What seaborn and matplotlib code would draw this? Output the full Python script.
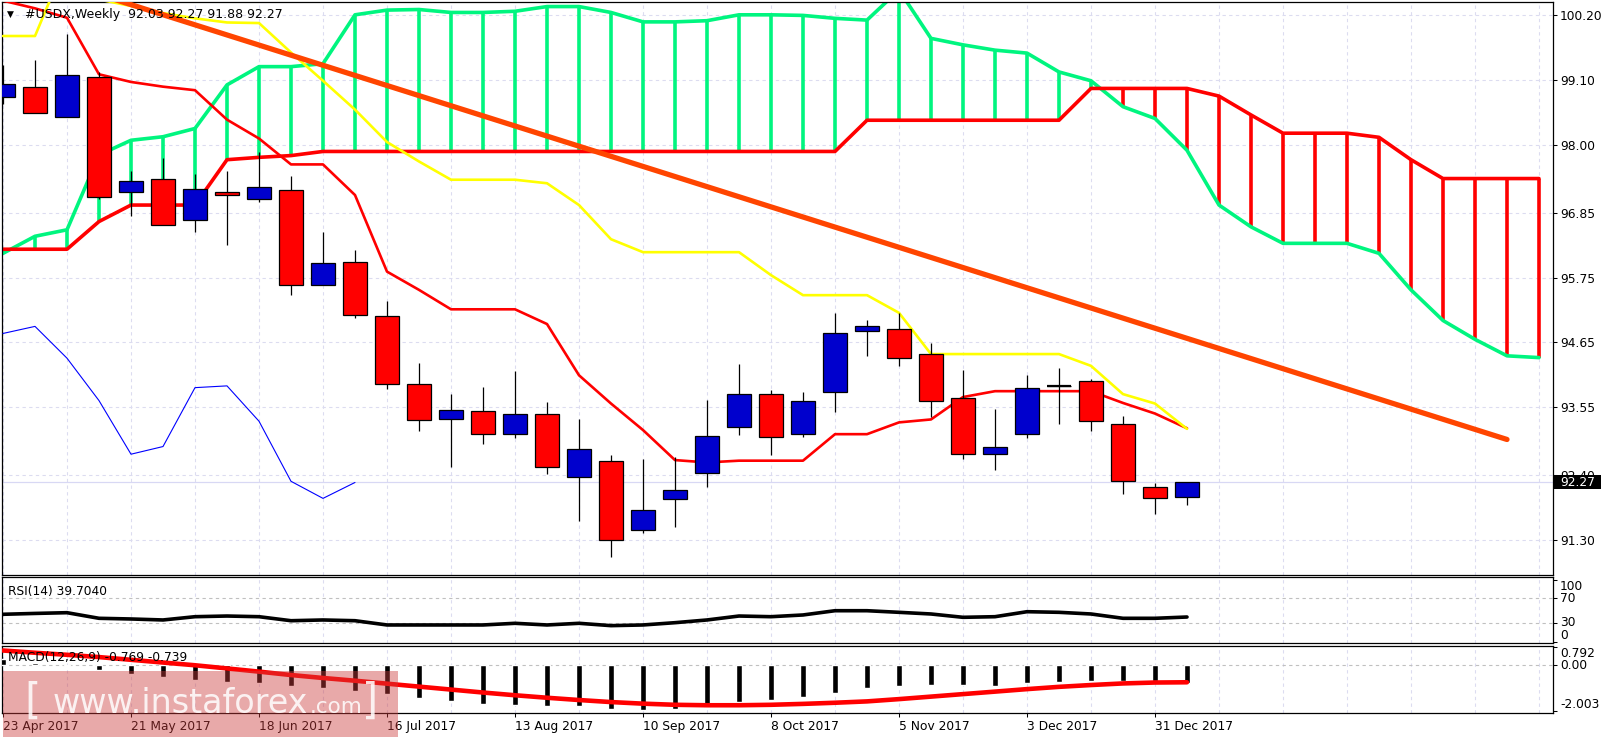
import numpy as np
import matplotlib
matplotlib.use("Agg")
import matplotlib.pyplot as plt
import seaborn as sns
from matplotlib.patches import Rectangle
import matplotlib.transforms as mtransforms

# ---------------- data ----------------
opens = [98.81, 98.98, 98.47, 99.15, 97.20, 97.43, 96.72, 97.21, 97.09, 97.23,
         95.63, 96.02, 95.09, 93.94, 93.34, 93.48, 93.09, 93.44, 92.36, 92.63,
         91.46, 91.99, 92.43, 93.22, 93.77, 93.09, 93.80, 94.84, 94.87, 94.45,
         93.70, 92.76, 93.10, 93.91, 93.99, 93.27, 92.19, 92.03]
highs = [99.35, 99.45, 99.88, 99.24, 97.56, 97.78, 97.51, 97.56, 97.88, 97.47,
         96.52, 96.22, 95.35, 94.30, 93.77, 93.89, 94.16, 93.64, 93.35, 92.74,
         92.67, 92.70, 93.67, 94.28, 93.84, 93.81, 95.15, 95.03, 95.15, 94.64,
         94.18, 93.52, 94.09, 94.22, 94.03, 93.40, 92.26, 92.27]
lows = [98.69, 98.54, 98.47, 97.08, 96.80, 96.64, 96.52, 96.30, 97.04, 95.46,
        95.62, 95.07, 93.85, 93.15, 92.54, 92.93, 93.03, 92.42, 91.62, 91.01,
        91.41, 91.52, 92.20, 93.08, 92.74, 93.05, 93.47, 94.41, 94.25, 93.39,
        92.67, 92.49, 93.03, 93.27, 93.15, 92.08, 91.74, 91.88]
closes = [99.03, 98.55, 99.18, 97.11, 97.38, 96.64, 97.26, 97.15, 97.28, 95.62,
          95.99, 95.11, 93.95, 93.33, 93.50, 93.09, 93.43, 92.53, 92.83, 91.30,
          91.81, 92.15, 93.06, 93.78, 93.05, 93.66, 94.80, 94.92, 94.38, 93.66,
          92.75, 92.88, 93.88, 93.91, 93.31, 92.29, 92.00, 92.27]

tenkan = [100.45, 100.32, 100.16, 99.20, 99.07, 98.99, 98.93, 98.43, 98.11, 97.67,
          97.67, 97.15, 95.85, 95.54, 95.21, 95.21, 95.21, 94.96, 94.09, 93.61,
          93.16, 92.65, 92.61, 92.64, 92.64, 92.64, 93.09, 93.09, 93.29, 93.34,
          93.72, 93.82, 93.82, 93.82, 93.82, 93.62, 93.44, 93.19]
kijun = [99.85, 99.85, 101.15, 100.47, 100.36, 100.24, 100.15, 100.08, 100.07, 99.57,
         99.09, 98.60, 98.05, 97.72, 97.41, 97.41, 97.41, 97.35, 96.98, 96.40,
         96.18, 96.18, 96.18, 96.18, 95.79, 95.45, 95.45, 95.45, 95.15, 94.45,
         94.45, 94.45, 94.45, 94.45, 94.25, 93.77, 93.61, 93.18]
span_a = [96.16, 96.45, 96.56, 97.83, 98.08, 98.14, 98.28, 99.02, 99.33, 99.33,
          99.38, 100.21, 100.29, 100.30, 100.25, 100.25, 100.27, 100.35, 100.35, 100.25,
          100.09, 100.09, 100.11, 100.21, 100.21, 100.20, 100.15, 100.12, 100.63, 99.81,
          99.70, 99.61, 99.56, 99.24, 99.09, 98.65, 98.45, 97.91, 96.98, 96.61,
          96.33, 96.33, 96.33, 96.16, 95.54, 95.02, 94.70, 94.42, 94.39]
span_b = [96.23, 96.23, 96.23, 96.70, 96.98, 96.98, 96.98, 97.75, 97.79, 97.82,
          97.89, 97.89, 97.89, 97.89, 97.89, 97.89, 97.89, 97.89, 97.89, 97.89,
          97.89, 97.89, 97.89, 97.89, 97.89, 97.89, 97.89, 98.42, 98.42, 98.42,
          98.42, 98.42, 98.42, 98.42, 98.96, 98.96, 98.96, 98.96, 98.83, 98.51,
          98.20, 98.20, 98.20, 98.13, 97.75, 97.43, 97.43, 97.43, 97.43]
chikou_shift = 26

trend_idx = [0, 47]
trend_val = [101.07, 93.00]

rsi = [44.1, 45.5, 46.7, 37.6, 36.5, 34.9, 40.2, 41.3, 40.2, 33.7,
       34.9, 33.7, 26.8, 26.8, 26.8, 26.8, 29.5, 26.8, 29.5, 25.7,
       26.8, 30.5, 34.9, 41.3, 40.2, 43.0, 49.9, 49.9, 47.3, 44.6,
       39.2, 40.2, 48.3, 47.3, 44.6, 37.6, 37.6, 39.7]
macd_main = [0.29, 0.12, -0.04, -0.18, -0.36, -0.52, -0.63, -0.71, -0.75, -0.89,
             -0.97, -1.11, -1.27, -1.45, -1.58, -1.68, -1.72, -1.79, -1.79, -1.92,
             -1.98, -1.91, -1.84, -1.62, -1.53, -1.40, -1.19, -0.97, -0.90, -0.85,
             -0.85, -0.90, -0.75, -0.72, -0.67, -0.68, -0.68, -0.769]
macd_signal = [0.66, 0.56, 0.47, 0.37, 0.25, 0.13, 0.01, -0.13, -0.27, -0.42,
               -0.55, -0.67, -0.80, -0.93, -1.06, -1.19, -1.31, -1.42, -1.52, -1.61,
               -1.68, -1.73, -1.75, -1.75, -1.73, -1.69, -1.64, -1.58, -1.48, -1.37,
               -1.26, -1.15, -1.04, -0.94, -0.86, -0.79, -0.75, -0.739]

price_ticks = [100.20, 99.10, 98.00, 96.85, 95.75, 94.65, 93.55, 92.40, 91.30]
rsi_ticks = [100, 70, 30, 0]
rsi_levels = [70, 30]
macd_ticks = [0.792, 0.00, -2.003]
macd_tick_labels = ["0.792", "0.00", "-2.003"]
date_idx = [0, 4, 8, 12, 16, 20, 24, 28, 32, 36]
date_labels = ["23 Apr 2017", "21 May 2017", "18 Jun 2017", "16 Jul 2017",
               "13 Aug 2017", "10 Sep 2017", "8 Oct 2017", "5 Nov 2017",
               "3 Dec 2017", "31 Dec 2017"]
title_text = "#USDX,Weekly  92.03 92.27 91.88 92.27"
rsi_text = "RSI(14) 39.7040"
macd_text = "MACD(12,26,9) -0.769 -0.739"
last_price = 92.27

# ---------------- style ----------------
sns.set_style("white")
plt.rcParams['font.family'] = ['DejaVu Sans']
FS = 8.8

W, H = 1605, 740
fig = plt.figure(figsize=(W / 100, H / 100), dpi=100)
fig.patch.set_facecolor("white")


def px_axes(l, t, r, b):
    return fig.add_axes([l / W, 1 - b / H, (r - l) / W, (b - t) / H])


def fx(x):
    return x / W


def fy(y):
    return 1 - y / H


XMIN, XMAX = (2 - 3) / 32, (1553 - 3) / 32
GRID_C = "#DCDCF0"
GRID_LS = (0, (3, 3))

ax = px_axes(2, 2, 1553, 575)
ax_rsi = px_axes(2, 577.3, 1553, 642.7)
ax_macd = px_axes(2, 645.7, 1553, 712.7)

for a in (ax, ax_rsi, ax_macd):
    a.set_facecolor("white")
    a.set_xlim(XMIN, XMAX)
    for s in a.spines.values():
        s.set_color("black")
        s.set_linewidth(0.9)
        s.set_visible(True)
    a.yaxis.tick_right()
    a.tick_params(axis='y', direction='out', length=3, width=0.75, pad=2,
                  labelsize=FS, colors='black', right=True, left=False)
    for gx in range(0, 50, 2):
        a.axvline(gx, color=GRID_C, lw=0.8, ls=GRID_LS, zorder=0)

# ---------------- main panel ----------------
ax.set_ylim(90.699, 100.4275)
ax.set_yticks(price_ticks)
ax.set_yticklabels([f"{v:.2f}" for v in price_ticks])
ax.tick_params(axis='x', bottom=False, labelbottom=False)
for v in price_ticks:
    ax.axhline(v, color=GRID_C, lw=0.8, ls=GRID_LS, zorder=0)
ax.axhline(last_price, color="#D8D8F4", lw=0.9, zorder=0.5)

idx_cloud = np.arange(len(span_a))
cloud_cols = ["#00F57F" if a_ >= b_ else "#FF0000" for a_, b_ in zip(span_a, span_b)]
ax.vlines(idx_cloud, span_a, span_b, colors=cloud_cols, linewidth=2.6, zorder=1)
sns.lineplot(x=idx_cloud, y=span_a, ax=ax, color="#00F57F", linewidth=2.6, zorder=2)
sns.lineplot(x=idx_cloud, y=span_b, ax=ax, color="#FF0000", linewidth=2.6, zorder=2)

idx = np.arange(len(closes))
sns.lineplot(x=idx, y=tenkan, ax=ax, color="#FF0000", linewidth=1.9, zorder=3)
sns.lineplot(x=idx, y=kijun, ax=ax, color="#FFFF00", linewidth=1.9, zorder=3.2)
chik_y = closes[chikou_shift:]
sns.lineplot(x=np.arange(len(chik_y)), y=chik_y, ax=ax, color="#0000FF",
             linewidth=0.8, zorder=3.3)

# candles
o = np.array(opens); c = np.array(closes)
ax.vlines(idx, lows, highs, colors="black", linewidth=0.9, zorder=5)
body_cols = ["#0000CD" if cc > oo else "#FF0000" for oo, cc in zip(o, c)]
ax.bar(idx, np.abs(c - o), bottom=np.minimum(o, c), width=0.75, color=body_cols,
       edgecolor="black", linewidth=0.9, zorder=6)
for i in idx:
    if abs(c[i] - o[i]) < 1e-9:
        ax.hlines(c[i], i - 0.375, i + 0.375, colors="black", linewidth=1.6, zorder=7)

# trend line
sns.lineplot(x=trend_idx, y=trend_val, ax=ax, color="#FF4500", linewidth=3.8, zorder=8)
ax.set_xlim(XMIN, XMAX)
ax.set_xlabel(""); ax.set_ylabel("")

# last price box
blend = mtransforms.blended_transform_factory(fig.transFigure, ax.transData)
hh = 14 / 58.9
rect = Rectangle((1554 / W, last_price - hh / 2), 47 / W, hh, transform=blend,
                 facecolor="black", edgecolor="none", zorder=20)
rect.set_clip_on(False)
ax.add_patch(rect)
ax.text(1560 / W, last_price, f"{last_price:.2f}", transform=blend, color="white",
        fontsize=FS, va="center", ha="left", zorder=21, clip_on=False)

fig.text(fx(7), fy(14.5), "\u25BC", fontsize=6.5, va="center", ha="left", color="black")
fig.text(fx(25), fy(14.5), title_text, fontsize=9, va="center", ha="left", color="black")

# ---------------- RSI ----------------
ax_rsi.set_ylim(-1.94, 104.05)
ax_rsi.set_yticks(rsi_ticks)
ax_rsi.set_yticklabels([str(v) for v in rsi_ticks])
for lbl, v in zip(ax_rsi.get_yticklabels(), rsi_ticks):
    if v == 100:
        lbl.set_va("top")
    elif v == 0:
        lbl.set_va("bottom")
    else:
        lbl.set_va("center")
ax_rsi.tick_params(axis='x', bottom=False, labelbottom=False)
for lv in rsi_levels:
    ax_rsi.axhline(lv, color="#C0C0C0", lw=0.8, ls=GRID_LS, zorder=0.5)
sns.lineplot(x=idx, y=rsi, ax=ax_rsi, color="black", linewidth=2.6, zorder=3)
ax_rsi.set_xlim(XMIN, XMAX)
ax_rsi.set_xlabel(""); ax_rsi.set_ylabel("")
fig.text(fx(8), fy(591), rsi_text, fontsize=FS, va="center", ha="left", color="black")

# ---------------- MACD ----------------
ax_macd.set_ylim(-2.078, 0.871)
ax_macd.set_yticks(macd_ticks)
ax_macd.set_yticklabels(macd_tick_labels)
for lbl, v in zip(ax_macd.get_yticklabels(), macd_ticks):
    if v > 0.5:
        lbl.set_va("top")
    elif v < -1:
        lbl.set_va("bottom")
    else:
        lbl.set_va("center")
ax_macd.axhline(0, color="#C0C0C0", lw=0.8, ls=GRID_LS, zorder=0.5)
ax_macd.bar(idx, macd_main, width=0.19, color="black", zorder=3)
sns.lineplot(x=idx, y=macd_signal, ax=ax_macd, color="#FF0000", linewidth=3.3, zorder=4)
ax_macd.set_xlim(XMIN, XMAX)
ax_macd.set_xlabel(""); ax_macd.set_ylabel("")
ax_macd.set_xticks(date_idx)
ax_macd.set_xticklabels(date_labels)
ax_macd.tick_params(axis='x', direction='out', length=3, width=0.75, pad=2,
                    labelsize=FS, colors='black', bottom=True)
for lbl in ax_macd.get_xticklabels():
    lbl.set_ha("left")
fig.text(fx(8), fy(657.5), macd_text, fontsize=FS, va="center", ha="left", color="black")

# ---------------- watermark ----------------
wm = Rectangle((fx(3), fy(737)), (397.7 - 3) / W, (737 - 670.7) / H,
               transform=fig.transFigure, facecolor="#CB3C3C", alpha=0.44,
               edgecolor="none", zorder=30)
fig.add_artist(wm)
fig.text(fx(24), fy(713.3), "[", fontsize=30, va="baseline", ha="left",
         color="white", alpha=0.85, zorder=31)
fig.text(fx(53), fy(713.3), "www.instaforex", fontsize=24, va="baseline", ha="left",
         color="white", alpha=0.85, zorder=31)
fig.text(fx(310), fy(713.3), ".com", fontsize=15.5, va="baseline", ha="left",
         color="white", alpha=0.85, zorder=31)
fig.text(fx(362), fy(713.3), "]", fontsize=30, va="baseline", ha="left",
         color="white", alpha=0.85, zorder=31)

fig.savefig("out.png", dpi=100, facecolor="white")
